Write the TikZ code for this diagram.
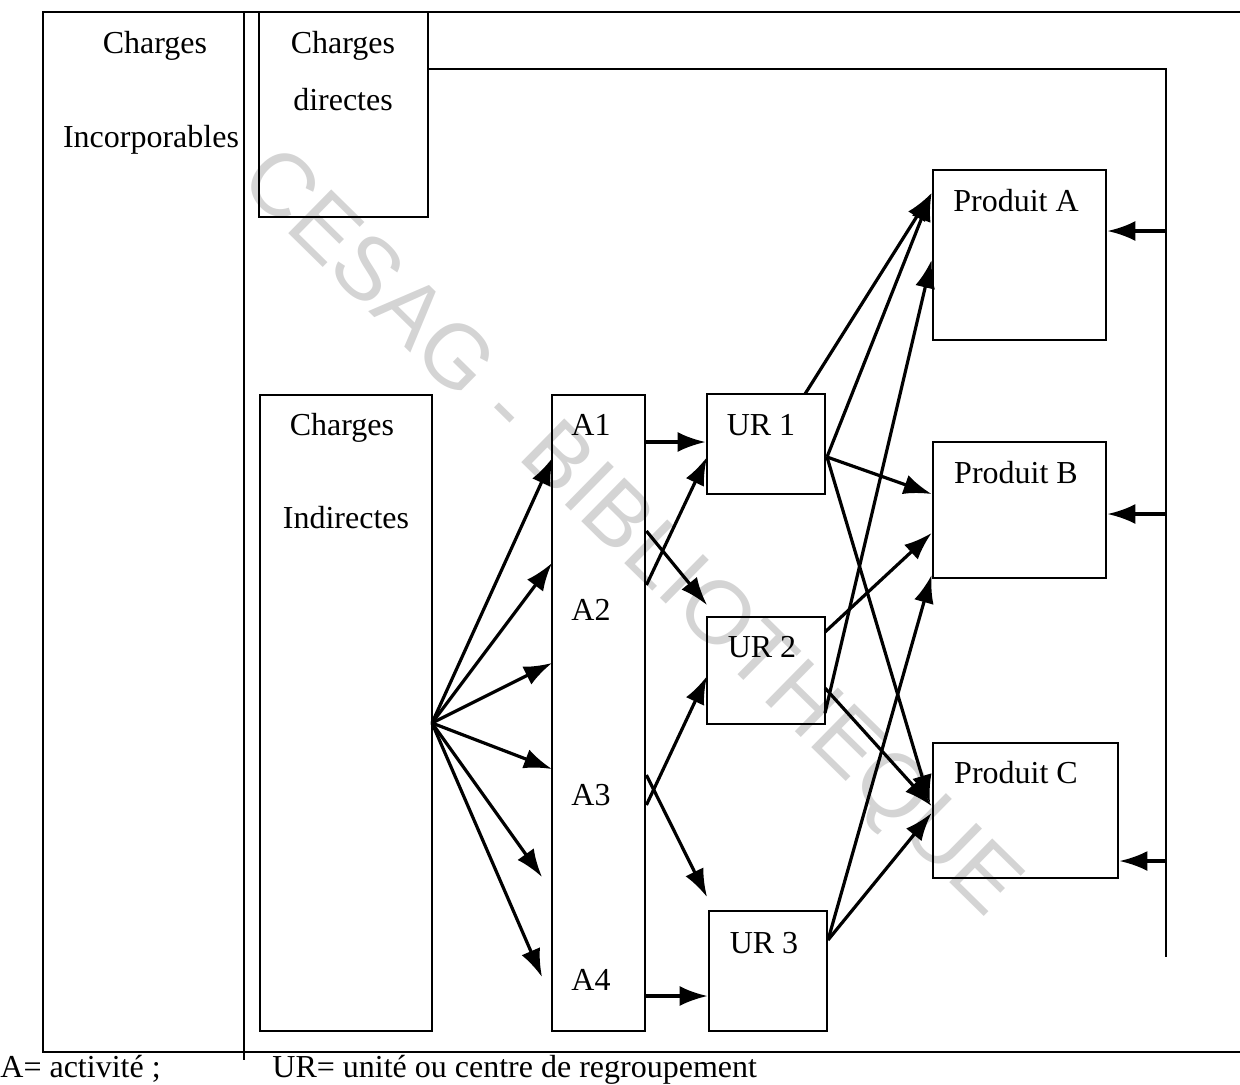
\documentclass[tikz,border=0pt]{standalone}
\usepackage{fontspec}
\setmainfont{Liberation Serif}
\newfontfamily\wmfont{Liberation Sans}
\usetikzlibrary{arrows.meta,fit}
\begin{document}
\begin{tikzpicture}[x=0.5pt,y=-0.5pt,
  box/.style={draw,line width=1.4pt,inner sep=0pt},
  frame/.style={line width=1.2pt},
  lbl/.style={font=\fontsize{16}{19}\selectfont,anchor=base,inner sep=0pt},
  arr/.style={line width=1.6pt,-{Latex[length=14pt,width=10pt]}},
  ln/.style={line width=1.4pt}]
\useasboundingbox (0,0) rectangle (1240,1084);
% watermark
\node[rotate=-44.5,text=black!17,inner sep=0pt] (wm) at (628,535)
  {\resizebox{525pt}{!}{\wmfont CESAG - BIBLIOTHEQUE}};
% frame
\draw[frame] (1240,12) -- (43,12) -- (43,1052) -- (1240,1052);
\draw[frame] (244,12) -- (244,1060);
% boxes
\node[box,fit={(259,12)(428,217)}] (cd) {};
\node[box,fit={(260,395)(432,1031)}] (ci) {};
\node[box,fit={(552,395)(645,1031)}] (acol) {};
\node[box,fit={(707,394)(825,494)}] (ur1) {};
\node[box,fit={(707,617)(825,724)}] (ur2) {};
\node[box,fit={(709,911)(827,1031)}] (ur3) {};
\node[box,fit={(933,170)(1106,340)}] (pa) {};
\node[box,fit={(933,442)(1106,578)}] (pb) {};
\node[box,fit={(933,743)(1118,878)}] (pc) {};
% labels
\node[lbl] (t1) at (155,53) {Charges};
\node[lbl] (t2) at (151,147) {Incorporables};
\node[lbl] (t3) at (343,53) {Charges};
\node[lbl] (t4) at (343,110) {directes};
\node[lbl] (t5) at (342,435) {Charges};
\node[lbl] (t6) at (346,528) {Indirectes};
\node[lbl] (la1) at (591,435) {A1};
\node[lbl] (la2) at (591,620) {A2};
\node[lbl] (la3) at (591,805) {A3};
\node[lbl] (la4) at (591,990) {A4};
\node[lbl] (lu1) at (761,435) {UR 1};
\node[lbl] (lu2) at (762,657) {UR 2};
\node[lbl] (lu3) at (764,953) {UR 3};
\node[lbl] (lpa) at (1016,211) {Produit A};
\node[lbl] (lpb) at (1016,483) {Produit B};
\node[lbl] (lpc) at (1016,783) {Produit C};
\node[lbl,anchor=base west] (lg1) at (0,1077) {A= activité ;};
\node[lbl,anchor=base west] (lg2) at (272,1077) {UR= unité ou centre de regroupement};
% coordinates
\coordinate (fan) at (432,723);
\coordinate (f1) at (553,457);
\coordinate (f2) at (552,563);
\coordinate (f3) at (552,663);
\coordinate (f4) at (552,769);
\coordinate (f5) at (542,877);
\coordinate (f6) at (542,977);
\coordinate (cdr) at (428,69);
\coordinate (rtop) at (1166,69);
\coordinate (rbot) at (1166,957);
\coordinate (ra) at (1166,231);
\coordinate (rb) at (1166,514);
\coordinate (rc) at (1166,861);
% fan arrows
\foreach \t in {f1,f2,f3,f4,f5,f6} \draw[arr] (fan) -- (\t);
% A -> UR
\draw[arr] (acol.east |- 0,442) -- (ur1.west |- 0,442);
\draw[arr] (acol.east |- 0,585) -- (707,457);
\draw[arr] (acol.east |- 0,531) -- (707,605);
\draw[arr] (acol.east |- 0,805) -- (707,676);
\draw[arr] (acol.east |- 0,775) -- (707,897);
\draw[arr] (acol.east |- 0,996) -- (ur3.west |- 0,996);
% UR -> Produits
\coordinate (u1e) at (827,457);
\coordinate (u2a) at (825,632);
\coordinate (u2b) at (825,688);
\coordinate (u2c) at (825,713);
\coordinate (u3e) at (828,940);
\draw[arr] (805,394) -- (pa.west |- 0,193);
\draw[arr] (u1e) -- (pa.west |- 0,193);
\draw[arr] (u1e) -- (pb.west |- 0,494);
\draw[arr] (u1e) -- (930,803);
\draw[arr] (u2a) -- (pb.west |- 0,533);
\draw[arr] (u2c) -- (pa.west |- 0,260);
\draw[arr] (u2b) -- (pc.west |- 0,806);
\draw[arr] (u3e) -- (pb.west |- 0,575);
\draw[arr] (u3e) -- (pc.west |- 0,813);
% direct charges line
\draw[ln] (cdr) -- (rtop) -- (rbot);
\draw[arr] (ra) -- (pa.east |- ra);
\draw[arr] (rb) -- (pb.east |- rb);
\draw[arr] (rc) -- (pc.east |- rc);
\end{tikzpicture}
\end{document}
